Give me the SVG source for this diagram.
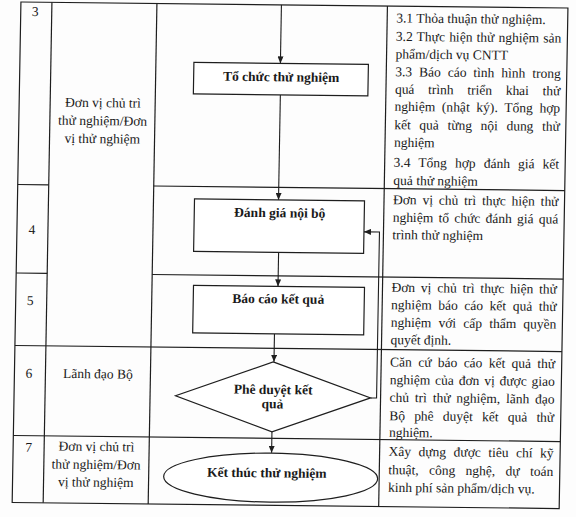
<svg xmlns="http://www.w3.org/2000/svg" width="576" height="517" viewBox="0 0 576 517">
<defs>
<style>
.ln{stroke:#1e1e1e;stroke-width:1.2;fill:none}
.bx{stroke:#1e1e1e;stroke-width:1.2;fill:#fff}
.t{font-family:"Liberation Serif","Times New Roman",serif;font-size:13.5px;fill:#1a1a1a}
.c{text-anchor:middle}
.b{font-weight:bold}
.cn{stroke:#1e1e1e;stroke-width:1.1;fill:none}
</style>
<marker id="ah" markerUnits="userSpaceOnUse" markerWidth="7" markerHeight="6" refX="7" refY="3" orient="auto">
<path d="M0,0 L7,3 L0,6 z" fill="#1e1e1e"/>
</marker>
</defs>
<rect width="576" height="517" fill="#fdfdfd"/>
<g transform="matrix(1 0.011 -0.0175 1 4.515 -3.168)">
<g id="table">
<rect class="ln" x="16.5" y="5" width="547" height="500.5"/>
<line class="ln" x1="47.5" y1="5" x2="47.5" y2="505.5"/>
<line class="ln" x1="152.5" y1="5" x2="152.5" y2="505.5"/>
<line class="ln" x1="383" y1="5" x2="383" y2="505.5"/>
<line class="ln" x1="16.5" y1="187.5" x2="47.5" y2="187.5"/>
<line class="ln" x1="152.5" y1="187.5" x2="563.5" y2="187.5"/>
<line class="ln" x1="16.5" y1="276" x2="47.5" y2="276"/>
<line class="ln" x1="152.5" y1="276" x2="563.5" y2="276"/>
<line class="ln" x1="16.5" y1="348.5" x2="563.5" y2="348.5"/>
<line class="ln" x1="16.5" y1="438.5" x2="563.5" y2="438.5"/>
<text class="t c" x="31" y="18.8">3</text>
<text class="t c" x="31.5" y="236.8">4</text>
<text class="t c" x="31" y="307.8">5</text>
<text class="t c" x="31" y="380.5">6</text>
<text class="t c" x="32" y="454.5">7</text>
<text class="t c" x="100.3" y="109.3">Đơn vị chủ trì</text>
<text class="t c" x="100.3" y="127.3">thử nghiệm/Đơn</text>
<text class="t c" x="100.3" y="145.3">vị thử nghiệm</text>
<text class="t c" x="100" y="380.4">Lãnh đạo Bộ</text>
<text class="t c" x="99.8" y="453.1">Đơn vị chủ trì</text>
<text class="t c" x="99.8" y="471.1">thử nghiệm/Đơn</text>
<text class="t c" x="99.8" y="488.8">vị thử nghiệm</text>
<text class="t" x="392" y="21.3">3.1 Thỏa thuận thử nghiệm.</text>
<text class="t" x="392" y="39.7" textLength="165.5" lengthAdjust="spacing" style="word-spacing:0.8px">3.2 Thực hiện thử nghiệm sản</text>
<text class="t" x="392" y="57.3">phẩm/dịch vụ CNTT</text>
<text class="t" x="392" y="75" textLength="165.5" lengthAdjust="spacing" style="word-spacing:3.57px">3.3 Báo cáo tình hình trong</text>
<text class="t" x="392" y="92.5" textLength="165.5" lengthAdjust="spacing" style="word-spacing:10.3px">quá trình triển khai thử</text>
<text class="t" x="392" y="109.7" textLength="165.5" lengthAdjust="spacing" style="word-spacing:3.3px">nghiệm (nhật ký). Tổng hợp</text>
<text class="t" x="392" y="128" textLength="165.5" lengthAdjust="spacing" style="word-spacing:5.2px">kết quả từng nội dung thử</text>
<text class="t" x="392" y="145.7">nghiệm</text>
<text class="t" x="392" y="165.7" textLength="165.5" lengthAdjust="spacing" style="word-spacing:4.67px">3.4 Tổng hợp đánh giá kết</text>
<text class="t" x="392" y="183.7">quả thử nghiệm</text>
<text class="t" x="392" y="203" textLength="165.5" lengthAdjust="spacing" style="word-spacing:2.44px">Đơn vị chủ trì thực hiện thử</text>
<text class="t" x="392" y="220.7" textLength="165.5" lengthAdjust="spacing" style="word-spacing:1.87px">nghiệm tổ chức đánh giá quá</text>
<text class="t" x="392" y="238">trình thử nghiệm</text>
<text class="t" x="392" y="290.7" textLength="165.5" lengthAdjust="spacing" style="word-spacing:2.44px">Đơn vị chủ trì thực hiện thử</text>
<text class="t" x="392" y="308" textLength="165.5" lengthAdjust="spacing" style="word-spacing:3.2px">nghiệm báo cáo kết quả thử</text>
<text class="t" x="392" y="325.7" textLength="165.5" lengthAdjust="spacing" style="word-spacing:3.78px">nghiệm với cấp thẩm quyền</text>
<text class="t" x="392" y="343">quyết định.</text>
<text class="t" x="392" y="365.3" textLength="165" lengthAdjust="spacing" style="word-spacing:3px">Căn cứ báo cáo kết quả thử</text>
<text class="t" x="392" y="383" textLength="165" lengthAdjust="spacing" style="word-spacing:1.55px">nghiệm của đơn vị được giao</text>
<text class="t" x="392" y="400.7" textLength="165" lengthAdjust="spacing" style="word-spacing:2.55px">chủ trì thử nghiệm, lãnh đạo</text>
<text class="t" x="392" y="419" textLength="165" lengthAdjust="spacing" style="word-spacing:5.9px">Bộ phê duyệt kết quả thử</text>
<text class="t" x="392" y="435.7">nghiệm.</text>
<text class="t" x="392" y="454.7" textLength="165" lengthAdjust="spacing" style="word-spacing:4.2px">Xây dựng được tiêu chí kỹ</text>
<text class="t" x="392" y="473" textLength="165" lengthAdjust="spacing" style="word-spacing:7.1px">thuật, công nghệ, dự toán</text>
<text class="t" x="392" y="490.7">kinh phí sản phẩm/dịch vụ.</text>
</g>
<g id="connectors">
<path class="cn" d="M277,5 L277,63.5" marker-end="url(#ah)"/>
<path class="cn" d="M277.5,95 L277.5,200" marker-end="url(#ah)"/>
<path class="cn" d="M278.5,252.5 L278.5,286.5" marker-end="url(#ah)"/>
<path class="cn" d="M275.8,334 L275.8,362" marker-end="url(#ah)"/>
<path class="cn" d="M275,432 L275,453" marker-end="url(#ah)"/>
<path class="cn" d="M373,397 L379,397 L379,231 L363.5,231" marker-end="url(#ah)"/>
</g>
<g id="n-to-chuc">
<rect class="bx" x="190.5" y="63.5" width="174.5" height="31.5"/>
<text class="t b c" x="278" y="81.5">Tổ chức thử nghiệm</text>
</g>
<g id="n-danh-gia">
<rect class="bx" x="193.5" y="200" width="170" height="52.5"/>
<text class="t b c" x="279" y="217.4">Đánh giá nội bộ</text>
</g>
<g id="n-bao-cao">
<rect class="bx" x="194" y="286.5" width="171" height="47.5"/>
<text class="t b c" x="279" y="303.5">Báo cáo kết quả</text>
</g>
<g id="n-phe-duyet">
<polygon class="bx" points="275,362 373,397 275,432 178,397"/>
<text class="t b c" x="275.5" y="394.2">Phê duyệt kết</text>
<text class="t b c" x="275" y="408.5">quả</text>
</g>
<g id="n-ket-thuc">
<ellipse class="bx" cx="274.5" cy="477.8" rx="107" ry="24.5"/>
<text class="t b c" x="270.5" y="477.5">Kết thúc thử nghiệm</text>
</g>
</g>
</svg>
